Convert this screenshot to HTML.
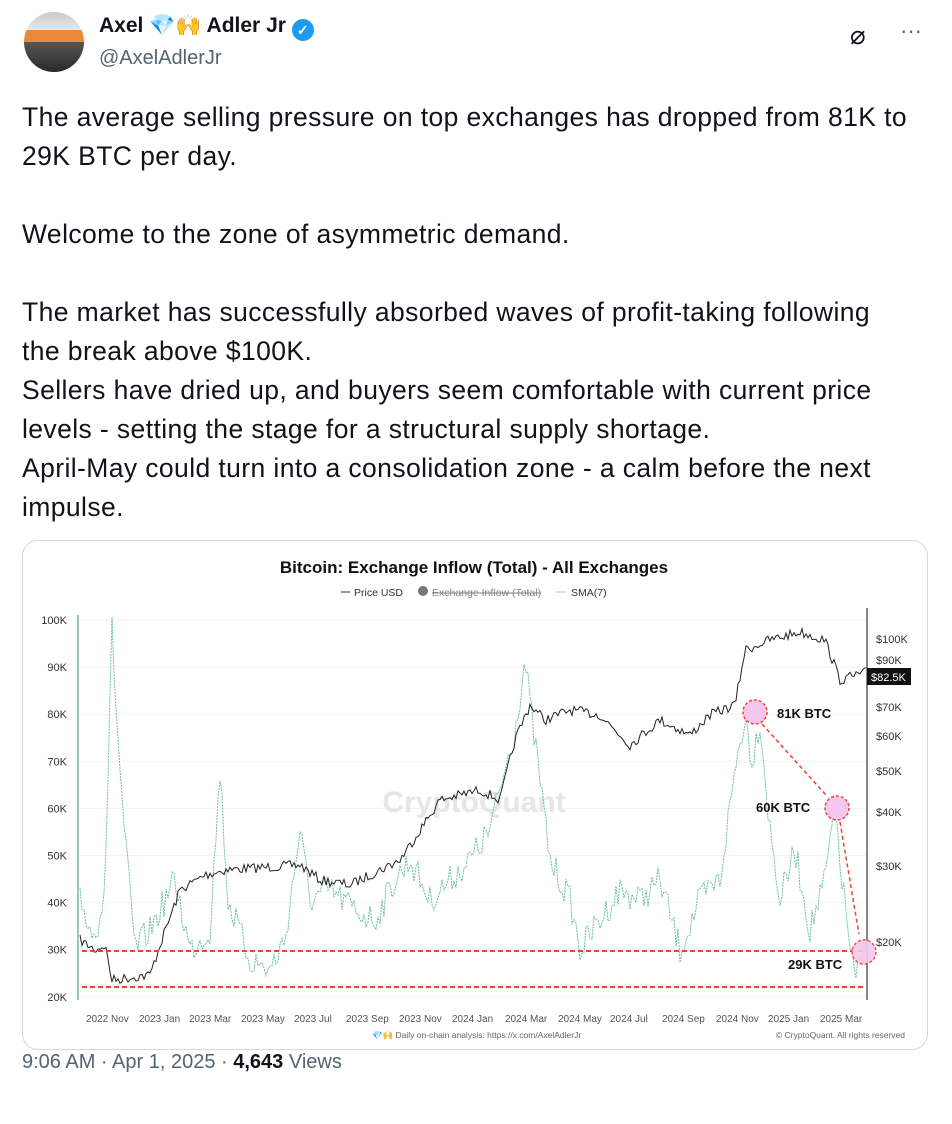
<!DOCTYPE html>
<html><head><meta charset="utf-8"><style>
body{margin:0;width:952px;height:1124px;background:#fff;font-family:"Liberation Sans",sans-serif;color:#0f1419;position:relative;overflow:hidden}
.abs{position:absolute}
.txt{left:22px;top:98px;font-size:26.5px;letter-spacing:0.4px;line-height:39px;width:890px}
.card{left:22px;top:540px;width:906px;height:510px;border:1px solid #cfd9de;border-radius:16px;box-sizing:border-box;overflow:hidden}
</style></head><body>
<div class="abs" style="left:24px;top:12px;width:60px;height:60px;border-radius:50%;background:linear-gradient(#c9c9c9 0,#e8e8e8 30%,#e88a3a 30%,#e88a3a 50%,#555 50%,#2a2a2a 100%)"></div>
<div class="abs" style="left:99px;top:14px;font-size:21px;font-weight:bold">Axel <span style="color:#4aa8e8">💎🙌</span> Adler Jr <span style="display:inline-block;width:22px;height:22px;border-radius:50%;background:#1d9bf0;color:#fff;font-size:14px;text-align:center;line-height:22px;vertical-align:-3px">✓</span></div>
<div class="abs" style="left:99px;top:47px;font-size:20px;color:#536471">@AxelAdlerJr</div>
<div class="abs" style="left:850px;top:20px;font-size:26px">⌀</div>
<div class="abs" style="left:900px;top:18px;font-size:22px;color:#536471">···</div>
<div class="abs txt">The average selling pressure on top exchanges has dropped from 81K to 29K BTC per day.<br><br>Welcome to the zone of asymmetric demand.<br><br>The market has successfully absorbed waves of profit-taking following the break above $100K.<br>Sellers have dried up, and buyers seem comfortable with current price levels - setting the stage for a structural supply shortage.<br>April-May could turn into a consolidation zone - a calm before the next impulse.</div>
<div class="abs card"></div>
<svg class="abs" style="left:0;top:0" width="952" height="1124" id="s">
<text x="474" y="573" font-size="17" font-weight="bold" text-anchor="middle" fill="#111">Bitcoin: Exchange Inflow (Total) - All Exchanges</text>
<g font-size="10.5" fill="#333"><line x1="341" y1="592" x2="350" y2="592" stroke="#333"/><text x="354" y="596">Price USD</text>
<circle cx="423" cy="591" r="5" fill="#777"/><text x="432" y="596" fill="#888" text-decoration="line-through">Exchange Inflow (Total)</text>
<line x1="556" y1="592" x2="566" y2="592" stroke="#6bbf9a" stroke-dasharray="2 1"/><text x="571" y="596">SMA(7)</text></g>
<g font-size="11" fill="#333" text-anchor="end" id="ly"></g>
<line x1="78" y1="615" x2="78" y2="1000" stroke="#6bbf9a" stroke-width="1.5"/>
<line x1="867" y1="608" x2="867" y2="1000" stroke="#333" stroke-width="1.2"/>
<g font-size="11" fill="#333"><text x="876" y="643">$100K</text><text x="876" y="664">$90K</text><text x="876" y="711">$70K</text><text x="876" y="740">$60K</text><text x="876" y="775">$50K</text><text x="876" y="816">$40K</text><text x="876" y="870">$30K</text><text x="876" y="946">$20K</text></g>
<rect x="867" y="668" width="44" height="17" fill="#111"/><text x="871" y="681" font-size="11" fill="#fff">$82.5K</text>
<text x="474" y="812" font-size="30" fill="#e6e6e6" text-anchor="middle" font-weight="bold">CryptoQuant</text>
<g font-size="10" fill="#555" id="lx"></g>
<path id="sma" fill="none" stroke="#6bbf9a" stroke-width="1" stroke-dasharray="2 1"/>
<path id="px" fill="none" stroke="#222" stroke-width="1"/>
<line x1="82" y1="951" x2="866" y2="951" stroke="#e8452f" stroke-width="2" stroke-dasharray="5 3"/>
<line x1="82" y1="987" x2="866" y2="987" stroke="#e8452f" stroke-width="2" stroke-dasharray="5 3"/>
<circle cx="755" cy="712" r="12" fill="#f6c7ee" stroke="#e8452f" stroke-dasharray="3 2" stroke-width="1.5"/>
<circle cx="837" cy="808" r="12" fill="#f6c7ee" stroke="#e8452f" stroke-dasharray="3 2" stroke-width="1.5"/>
<circle cx="864" cy="952" r="12" fill="#f6c7ee" stroke="#e8452f" stroke-dasharray="3 2" stroke-width="1.5" opacity=".9"/>
<line x1="762" y1="724" x2="826" y2="795" stroke="#e8452f" stroke-width="1.5" stroke-dasharray="4 3"/>
<line x1="840" y1="822" x2="859" y2="934" stroke="#e8452f" stroke-width="1.5" stroke-dasharray="4 3"/>
<g font-size="13" font-weight="bold" fill="#111"><text x="777" y="718">81K BTC</text><text x="756" y="812">60K BTC</text><text x="788" y="969">29K BTC</text></g>
<text x="372" y="1038" font-size="8.5" fill="#666">💎🙌 Daily on-chain analysis: https://x.com/AxelAdlerJr</text>
<text x="905" y="1038" font-size="8.5" fill="#666" text-anchor="end">© CryptoQuant. All rights reserved</text>
</svg>
<div class="abs" style="left:22px;top:1051px;font-size:20px;color:#536471">9:06 AM · Apr 1, 2025 · <b style="color:#0f1419">4,643</b> Views</div>
<script>
var ly=document.getElementById('ly'),lx=document.getElementById('lx'),ns='http://www.w3.org/2000/svg';
function t(g,x,y,s){var e=document.createElementNS(ns,'text');e.setAttribute('x',x);e.setAttribute('y',y);e.textContent=s;g.appendChild(e);}
for(var i=0;i<9;i++){t(ly,67,624+i*47.1,(100-i*10)+'K');var l=document.createElementNS(ns,'line');l.setAttribute('x1',80);l.setAttribute('x2',866);l.setAttribute('y1',620+i*47.1);l.setAttribute('y2',620+i*47.1);l.setAttribute('stroke','#f2f2f2');document.getElementById('s').insertBefore(l,ly);}
var labs=['2022 Nov','2023 Jan','2023 Mar','2023 May','2023 Jul','2023 Sep','2023 Nov','2024 Jan','2024 Mar','2024 May','2024 Jul','2024 Sep','2024 Nov','2025 Jan','2025 Mar'];
var xs=[86,139,189,241,294,346,399,452,505,558,610,662,716,768,820];
labs.forEach(function(s,i){t(lx,xs[i],1022,s)});
var seed=7;function r(){seed=(seed*16807)%2147483647;return seed/2147483647;}
function build(k,st,amp){var d='';for(var x=k[0][0];x<=k[k.length-1][0];x+=st){var j=0;while(k[j+1][0]<x)j++;var a=k[j],b=k[j+1];var y=a[1]+(b[1]-a[1])*(x-a[0])/(b[0]-a[0])+(r()-.5)*amp;d+=(d?'L':'M')+x+' '+y.toFixed(1);}return d;}
var px=[[80,940],[95,950],[105,945],[112,980],[150,975],[160,945],[180,890],[205,875],[225,870],[300,865],[320,880],[350,885],[380,870],[400,860],[420,830],[440,800],[480,790],[500,800],[515,740],[530,705],[545,720],[570,710],[600,715],[630,745],[660,720],[690,735],[710,715],[735,705],[745,650],[770,640],[800,632],[825,640],[840,680],[867,672]];
document.getElementById('px').setAttribute('d',build(px,2,10));
var sm=[[80,900],[95,940],[105,880],[112,630],[118,740],[125,840],[135,950],[150,930],[175,880],[190,950],[210,930],[220,770],[228,900],[250,960],[270,970],[285,940],[300,830],[310,900],[330,890],[355,910],[375,920],[395,880],[410,860],[430,900],[450,880],[470,860],[490,830],[505,770],[515,730],[525,660],[532,720],[540,780],[550,860],[570,900],[580,950],[600,920],[620,890],[640,900],[660,880],[680,950],[700,900],[720,880],[735,770],[745,715],[752,760],[760,720],[770,830],[780,900],[795,850],[810,930],[825,880],[835,805],[842,880],[855,985],[866,940]];
document.getElementById('sma').setAttribute('d',build(sm,2,30));
</script>
</body></html>
